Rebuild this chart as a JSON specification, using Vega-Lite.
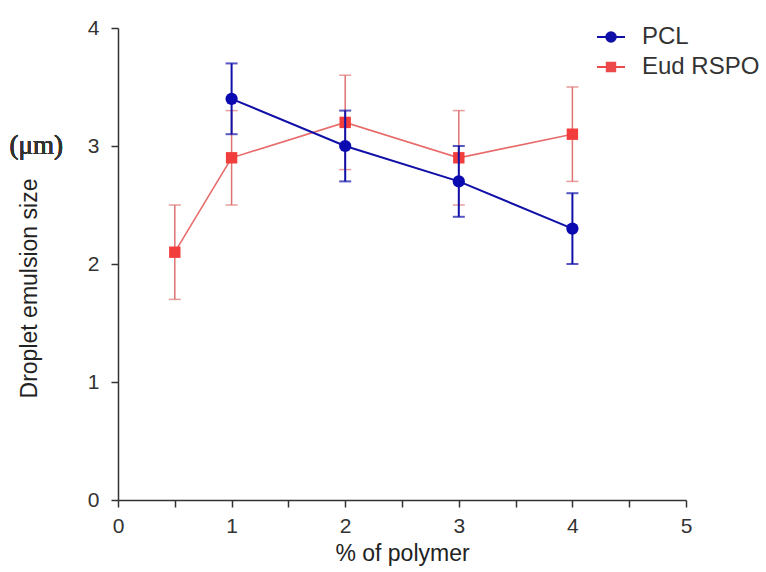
{
  "$schema": "https://vega.github.io/schema/vega-lite/v6.json",
  "width": 568,
  "height": 472,
  "autosize": {"type": "none"},
  "padding": {"left": 118, "top": 28, "right": 80, "bottom": 72},
  "background": "white",
  "config": {
    "view": {"stroke": null},
    "font": "Liberation Sans",
    "axis": {
      "grid": false,
      "domainColor": "#333333",
      "domainWidth": 1.5,
      "tickColor": "#333333",
      "tickWidth": 1.5,
      "tickSize": 7,
      "labelFlush": false,
      "labelFont": "Liberation Sans Narrow, Liberation Sans",
      "labelFontSize": 21,
      "labelColor": "#333333",
      "titleFont": "Liberation Sans",
      "titleFontSize": 23,
      "titleFontWeight": "normal",
      "titleColor": "#222222"
    }
  },
  "data": {
    "values": [
      {"series": "Eud RSPO", "x": 0.5, "y": 2.1, "lo": 1.7, "hi": 2.5},
      {"series": "Eud RSPO", "x": 1, "y": 2.9, "lo": 2.5, "hi": 3.3},
      {"series": "Eud RSPO", "x": 2, "y": 3.2, "lo": 2.8, "hi": 3.6},
      {"series": "Eud RSPO", "x": 3, "y": 2.9, "lo": 2.5, "hi": 3.3},
      {"series": "Eud RSPO", "x": 4, "y": 3.1, "lo": 2.7, "hi": 3.5},
      {"series": "PCL", "x": 1, "y": 3.4, "lo": 3.1, "hi": 3.7},
      {"series": "PCL", "x": 2, "y": 3.0, "lo": 2.7, "hi": 3.3},
      {"series": "PCL", "x": 3, "y": 2.7, "lo": 2.4, "hi": 3.0},
      {"series": "PCL", "x": 4, "y": 2.3, "lo": 2.0, "hi": 2.6}
    ]
  },
  "encoding": {
    "x": {
      "field": "x", "type": "quantitative",
      "scale": {"domain": [0, 5], "nice": false, "zero": false},
      "axis": {
        "title": "% of polymer",
        "values": [0, 0.5, 1, 1.5, 2, 2.5, 3, 3.5, 4, 4.5, 5],
        "labelExpr": "datum.value % 1 === 0 ? format(datum.value, 'd') : ''",
        "labelPadding": 8,
        "titlePadding": 6
      }
    },
    "y": {
      "field": "y", "type": "quantitative",
      "scale": {"domain": [0, 4], "nice": false},
      "axis": {
        "title": "Droplet emulsion size",
        "values": [0, 1, 2, 3, 4],
        "format": "d",
        "labelPadding": 12,
        "titlePadding": 46,
        "titleY": 260
      }
    }
  },
  "layer": [
    {
      "transform": [{"filter": "datum.series === 'Eud RSPO'"}],
      "layer": [
        {"mark": {"type": "rule", "color": "#e07272", "strokeWidth": 1.5}, "encoding": {"y": {"field": "lo", "type": "quantitative"}, "y2": {"field": "hi"}}},
        {"mark": {"type": "tick", "orient": "horizontal", "color": "#e07272", "size": 12, "thickness": 1.5}, "encoding": {"y": {"field": "lo", "type": "quantitative"}}},
        {"mark": {"type": "tick", "orient": "horizontal", "color": "#e07272", "size": 12, "thickness": 1.5}, "encoding": {"y": {"field": "hi", "type": "quantitative"}}},
        {"mark": {"type": "line", "color": "#e86c6c", "strokeWidth": 1.6}, "encoding": {}},
        {"mark": {"type": "point", "shape": "square", "filled": true, "color": "#f23d3d", "opacity": 1, "size": 130}, "encoding": {}}
      ]
    },
    {
      "transform": [{"filter": "datum.series === 'PCL'"}],
      "layer": [
        {"mark": {"type": "rule", "color": "#1010a8", "strokeWidth": 2}, "encoding": {"y": {"field": "lo", "type": "quantitative"}, "y2": {"field": "hi"}}},
        {"mark": {"type": "tick", "orient": "horizontal", "color": "#1010a8", "size": 12, "thickness": 2}, "encoding": {"y": {"field": "lo", "type": "quantitative"}}},
        {"mark": {"type": "tick", "orient": "horizontal", "color": "#1010a8", "size": 12, "thickness": 2}, "encoding": {"y": {"field": "hi", "type": "quantitative"}}},
        {"mark": {"type": "line", "color": "#1010a8", "strokeWidth": 2}, "encoding": {}},
        {"mark": {"type": "point", "shape": "circle", "filled": true, "color": "#0a0ab0", "opacity": 1, "size": 150}, "encoding": {}}
      ]
    },
    {
      "mark": {"type": "point", "filled": true, "opacity": 0},
      "encoding": {
        "color": {
          "field": "series", "type": "nominal",
          "scale": {"domain": ["PCL", "Eud RSPO"], "range": ["#1010a8", "#ec4a4a"]},
          "legend": {
            "title": null, "orient": "none", "legendX": 478, "legendY": -6,
            "symbolSize": 784, "symbolStrokeWidth": 2, "labelOffset": 16,
            "labelFontSize": 24, "labelColor": "#333333", "labelFont": "Liberation Sans",
            "rowPadding": 3, "padding": 0,
            "encode": {"symbols": {"update": {"opacity": {"value": 1}, "fillOpacity": {"value": 1}, "strokeOpacity": {"value": 1}, "stroke": {"scale": "color", "field": "value"}, "strokeWidth": {"value": 2}}}}
          }
        },
        "shape": {
          "field": "series", "type": "nominal",
          "scale": {"domain": ["PCL", "Eud RSPO"], "range": ["M-1,0H1M-0.34,0a0.34,0.34 0 1,0 0.68,0a0.34,0.34 0 1,0 -0.68,0Z", "M-1,0H1M-0.3,-0.3H0.3V0.3H-0.3Z"]},
          "legend": {
            "title": null, "orient": "none", "legendX": 478, "legendY": -6,
            "symbolSize": 784, "symbolStrokeWidth": 2, "labelOffset": 16,
            "labelFontSize": 24, "labelColor": "#333333", "labelFont": "Liberation Sans",
            "rowPadding": 3, "padding": 0,
            "encode": {"symbols": {"update": {"opacity": {"value": 1}, "fillOpacity": {"value": 1}, "strokeOpacity": {"value": 1}, "stroke": {"scale": "color", "field": "value"}, "strokeWidth": {"value": 2}}}}
          }
        }
      }
    },
    {
      "mark": {"type": "text", "text": "(μm)", "font": "Liberation Serif", "fontSize": 27, "color": "#333333", "align": "center", "baseline": "middle"},
      "encoding": {"x": {"datum": -0.72, "type": "quantitative"}, "y": {"datum": 3.0, "type": "quantitative"}}
    }
  ]
}
